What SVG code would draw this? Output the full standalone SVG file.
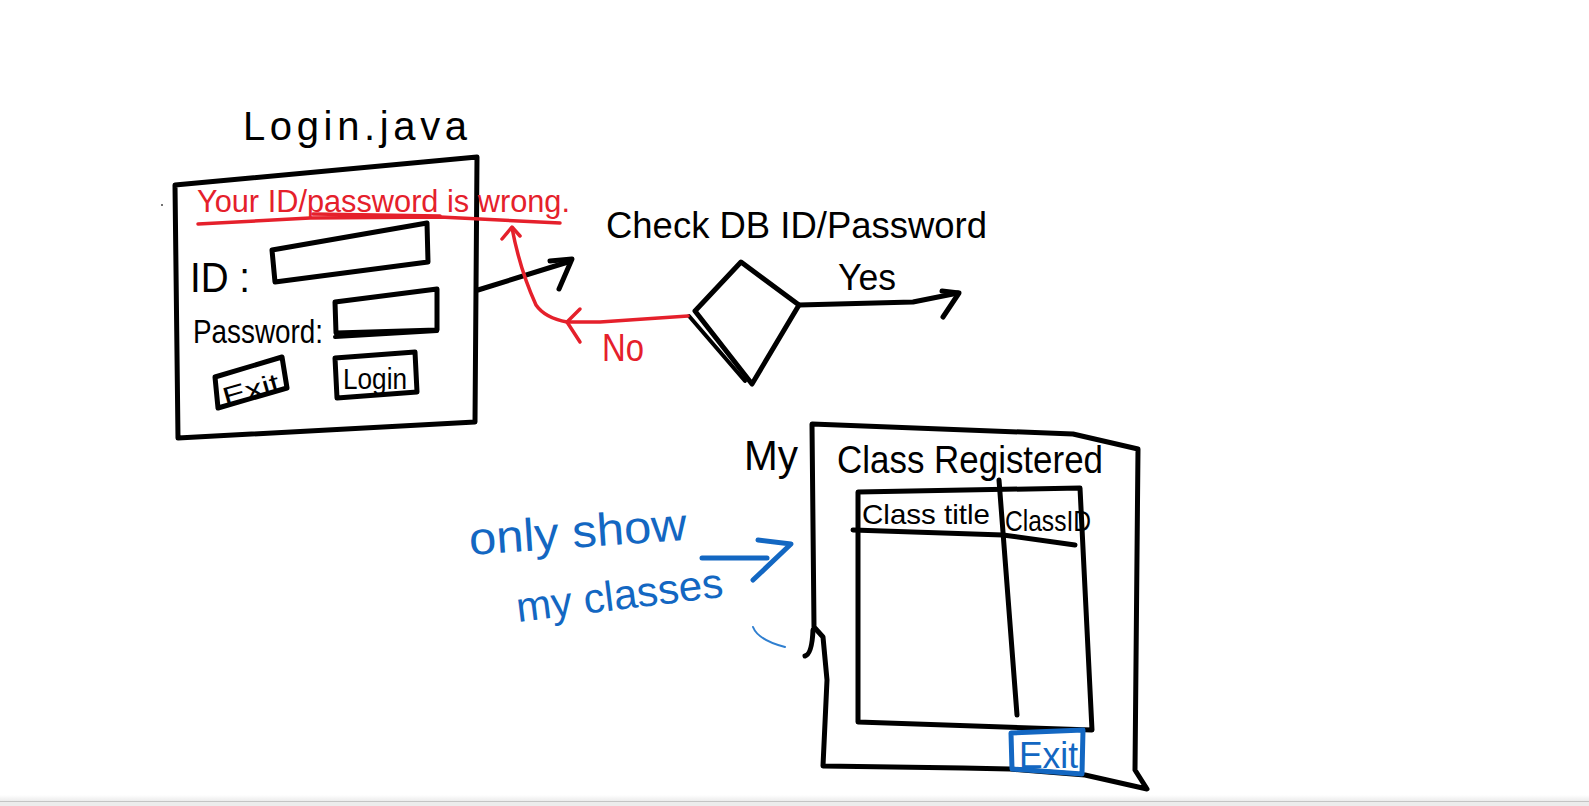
<svg xmlns="http://www.w3.org/2000/svg" width="1589" height="806" viewBox="0 0 1589 806">
  <defs>
    <linearGradient id="barShade" x1="0" y1="0" x2="0" y2="1">
      <stop offset="0" stop-color="#ffffff"/>
      <stop offset="1" stop-color="#ececec"/>
    </linearGradient>
  </defs>
  <style>
    .ink{fill:none;stroke:#000;stroke-width:5;stroke-linecap:round;stroke-linejoin:round}
    .thin{fill:none;stroke:#000;stroke-width:4;stroke-linecap:round;stroke-linejoin:round}
    .red{fill:none;stroke:#e5202b;stroke-width:3.5;stroke-linecap:round;stroke-linejoin:round}
    .blue{fill:none;stroke:#1367c2;stroke-width:5;stroke-linecap:round;stroke-linejoin:round}
    .t{font-family:"Liberation Sans","DejaVu Sans",sans-serif;fill:#000}
    .tr{font-family:"Liberation Sans","DejaVu Sans",sans-serif;fill:#e5202b}
    .tb{font-family:"Liberation Sans","DejaVu Sans",sans-serif;fill:#1367c2}
  </style>
  <rect x="0" y="0" width="1589" height="806" fill="#ffffff"/>

  <!-- Login window -->
  <g id="login-window">
    <text class="t" x="243" y="140" font-size="40" textLength="224" lengthAdjust="spacing">Login.java</text>
    <path class="ink" d="M175,185 L477,157 L475,422 L178,438 Z"/>
    <circle cx="162" cy="205" r="1" fill="#444"/>
    <text class="tr" x="197" y="212" font-size="31" textLength="373" lengthAdjust="spacingAndGlyphs">Your ID/password is wrong.</text>
    <path class="red" d="M198,224 L310,218 L440,217 L560,223"/>
    <path class="red" d="M313,214 L440,216"/>
    <text class="t" x="190" y="292" font-size="42" textLength="60" lengthAdjust="spacingAndGlyphs">ID :</text>
    <path class="ink" d="M272,250 L427,223 L428,262 L275,282 Z"/>
    <text class="t" x="193" y="343" font-size="34" textLength="130" lengthAdjust="spacingAndGlyphs">Password:</text>
    <path class="ink" d="M335,302 L437,289 L437,330 L336,333 Z"/>
    <path class="thin" d="M335,337 L437,331"/>
    <g id="login-exit">
      <path class="ink" d="M215,377 L282,357 L287,388 L218,408 Z"/>
      <text class="t" x="222" y="399" font-size="26" transform="rotate(-16 250 390)" textLength="58" lengthAdjust="spacingAndGlyphs">Exit</text>
    </g>
    <g id="login-button">
      <path class="ink" d="M335,358 L415,352 L417,392 L337,398 Z"/>
      <text class="t" x="343" y="389" font-size="30" textLength="64" lengthAdjust="spacingAndGlyphs">Login</text>
    </g>
  </g>

  <!-- Check decision -->
  <g id="check-diamond">
    <text class="t" x="606" y="238" font-size="36" textLength="381" lengthAdjust="spacingAndGlyphs">Check DB ID/Password</text>
    <path class="ink" d="M741,262 L799,305 L752,384 L695,311 Z"/>
    <path class="thin" d="M689,316 L745,381"/>
  </g>

  <!-- My Class Registered window -->
  <g id="my-class-window">
    <text class="t" x="744" y="470" font-size="42" textLength="54" lengthAdjust="spacingAndGlyphs">My</text>
    <path class="ink" d="M812,424 L1073,434 L1138,449 L1135,770 L1147,789 L1085,775 L1010,769 L963,768 L823,766 L827,680 L823,637 L814,627 Z"/>
    <path class="ink" d="M813,630 Q812,654 805,656"/>
    <text class="t" x="837" y="473" font-size="38" textLength="266" lengthAdjust="spacingAndGlyphs">Class Registered</text>
    <path class="ink" d="M858,492 L1080,488 L1092,730 L858,722 Z"/>
    <path class="ink" d="M853,530 L1003,535 L1075,545"/>
    <path class="ink" d="M999,480 L1017,715"/>
    <text class="t" x="862" y="524" font-size="28" textLength="128" lengthAdjust="spacingAndGlyphs">Class title</text>
    <text class="t" x="1005" y="531" font-size="30" textLength="86" lengthAdjust="spacingAndGlyphs">ClassID</text>
    <g id="class-exit">
      <path class="blue" d="M1011,733 L1083,730 L1082,774 L1012,769 Z"/>
      <text class="tb" x="1019" y="768" font-size="36" textLength="59" lengthAdjust="spacingAndGlyphs">Exit</text>
    </g>
  </g>

  <!-- Note -->
  <g id="note">
    <text class="tb" x="470" y="555" font-size="46" transform="rotate(-4 470 555)" textLength="218" lengthAdjust="spacingAndGlyphs">only show</text>
    <text class="tb" x="518" y="622" font-size="42" transform="rotate(-7 518 622)" textLength="208" lengthAdjust="spacingAndGlyphs">my classes</text>
  </g>

  <!-- Connectors -->
  <g id="connectors">
    <path class="ink" d="M478,290 L568,262"/>
    <path class="ink" d="M550,261 L572,259 L559,289"/>
    <path class="ink" d="M799,305 L913,302 L958,293"/>
    <path class="ink" d="M942,291 L959,293 L943,317"/>
    <text class="t" x="838" y="290" font-size="36" textLength="58" lengthAdjust="spacingAndGlyphs">Yes</text>
    <path class="red" d="M688,316 L600,322 L567,322 Q545,318 536,305 Q520,270 512,228"/>
    <path class="red" d="M502,239 L512,227 L520,236"/>
    <path class="red" d="M580,309 L567,322 L580,342"/>
    <text class="tr" x="602" y="361" font-size="38" textLength="42" lengthAdjust="spacingAndGlyphs">No</text>
    <path class="blue" d="M702,558 L767,558"/>
    <path class="blue" d="M758,540 L791,544 L753,580"/>
    <path d="M753,627 Q758,640 785,647" fill="none" stroke="#2f7fd0" stroke-width="2" stroke-linecap="round"/>
  </g>

  <!-- window bottom bar -->
  <rect x="0" y="795" width="1589" height="6" fill="url(#barShade)"/>
  <rect x="0" y="801" width="1589" height="1" fill="#c4c4c4"/>
  <rect x="0" y="802" width="1589" height="4" fill="#ececec"/>
</svg>
